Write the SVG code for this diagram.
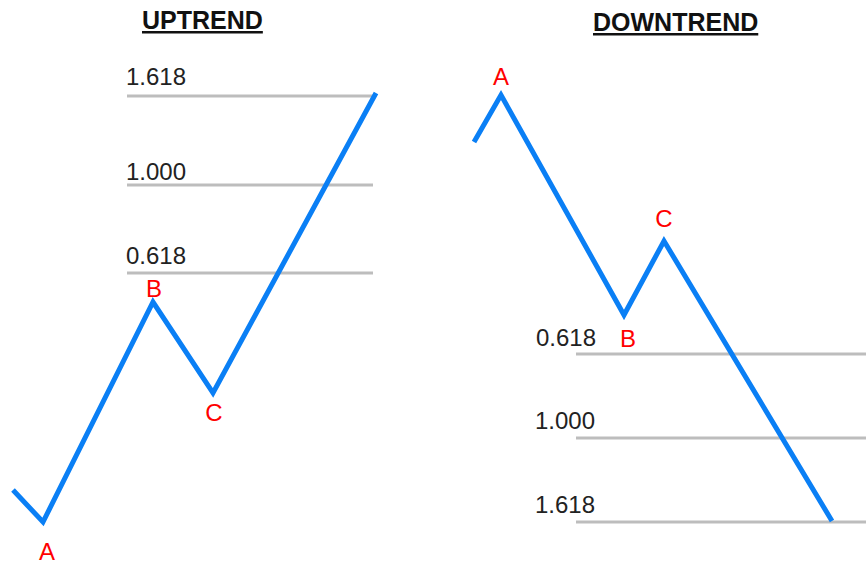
<svg xmlns="http://www.w3.org/2000/svg" width="866" height="565" viewBox="0 0 866 565">
<style>
.title{font-family:"Liberation Sans",Arial,sans-serif;font-size:25px;font-weight:bold;fill:#111;text-decoration:underline}
.lvl{font-family:"Liberation Sans",Arial,sans-serif;font-size:24px;fill:#222}
.pt{font-family:"Liberation Sans",Arial,sans-serif;font-size:24px;fill:#ff0000;text-anchor:middle}
.grid{stroke:#bdbdbd;stroke-width:3;fill:none}
.wave{stroke:#0a7ff5;stroke-width:5;fill:none;stroke-linejoin:miter;stroke-linecap:butt}
</style>
<rect width="866" height="565" fill="#fff"/>
<g id="uptrend">
<text class="title" x="142" y="29">UPTREND</text>
<g id="up-levels">
<line class="grid" x1="127" y1="96" x2="373" y2="96"/>
<line class="grid" x1="127" y1="185" x2="373" y2="185"/>
<line class="grid" x1="127" y1="273" x2="373" y2="273"/>
<text class="lvl" x="126" y="85">1.618</text>
<text class="lvl" x="126" y="180">1.000</text>
<text class="lvl" x="126" y="264">0.618</text>
</g>
<g id="up-wave">
<polyline class="wave" points="13,490 43,522 153,302 213,393 376,93"/>
</g>
<text class="pt" x="47" y="560">A</text>
<text class="pt" x="154" y="297">B</text>
<text class="pt" x="214" y="421">C</text>
</g>
<g id="downtrend">
<text class="title" x="593" y="31">DOWNTREND</text>
<g id="down-levels">
<line class="grid" x1="576" y1="354" x2="866" y2="354"/>
<line class="grid" x1="576" y1="438" x2="866" y2="438"/>
<line class="grid" x1="576" y1="522" x2="866" y2="522"/>
<text class="lvl" x="536" y="346">0.618</text>
<text class="lvl" x="535" y="429">1.000</text>
<text class="lvl" x="535" y="513">1.618</text>
</g>
<g id="down-wave">
<polyline class="wave" points="474,142 501,95 624,315 664,241 832,521"/>
</g>
<text class="pt" x="501" y="85">A</text>
<text class="pt" x="628" y="347">B</text>
<text class="pt" x="664" y="227">C</text>
</g>
</svg>
